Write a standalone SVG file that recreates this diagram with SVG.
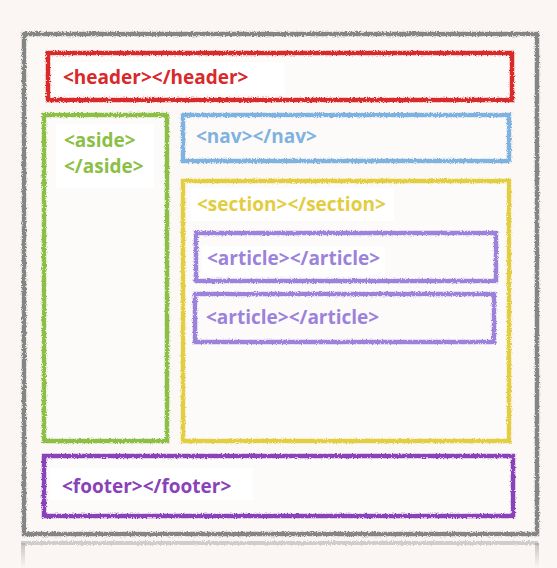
<svg xmlns="http://www.w3.org/2000/svg" width="557" height="568" viewBox="0 0 557 568">
  <defs>
    <filter id="chalk" x="-5%" y="-5%" width="110%" height="110%">
      <feTurbulence type="fractalNoise" baseFrequency="0.8" numOctaves="2" seed="3" result="n"/>
      <feDisplacementMap in="SourceGraphic" in2="n" scale="3.5" xChannelSelector="R" yChannelSelector="G"/>
    </filter>
    <linearGradient id="fade" x1="0" y1="0" x2="0" y2="1">
      <stop offset="0" stop-color="#9a9a9a" stop-opacity="0.55"/>
      <stop offset="1" stop-color="#9a9a9a" stop-opacity="0"/>
    </linearGradient>
  </defs>
  <style>
    .box { stroke-width: 4.5; fill: #fdfbfa; }
    .lbl { fill: #ffffff; }
    .t { font-family: "Open Sans", "Noto Sans", "Liberation Sans", sans-serif; font-weight: 700; font-size: 19px; }
  </style>
  <rect x="0" y="0" width="557" height="568" fill="#fbf6f4"/>

  <!-- reflection -->
  <g id="reflection">
    <rect x="21" y="541" width="518" height="4" fill="#bdbdbd" opacity="0.7" filter="url(#chalk)"/>
    <rect x="21" y="543" width="4" height="25" fill="url(#fade)"/>
    <rect x="535" y="543" width="4" height="25" fill="url(#fade)"/>
  </g>

  <g id="page">
    <rect x="24" y="34" width="513" height="500" fill="#fcf8f6" stroke="#858585" stroke-width="4.5" filter="url(#chalk)"/>
  </g>

  <g id="header">
    <rect class="box" x="48" y="53" width="464" height="47" stroke="#d8292b" filter="url(#chalk)"/>
    <rect class="lbl" x="55" y="62" width="230" height="32"/>
    <text class="t" x="63" y="84" fill="#d8292b">&lt;header&gt;&lt;/header&gt;</text>
  </g>

  <g id="aside">
    <rect class="box" x="44" y="115" width="123" height="326" stroke="#8bbf45" filter="url(#chalk)"/>
    <rect class="lbl" x="56" y="124" width="98" height="64"/>
    <text class="t" x="64" y="147" fill="#8bbf45">&lt;aside&gt;</text>
    <text class="t" x="64" y="173" fill="#8bbf45">&lt;/aside&gt;</text>
  </g>

  <g id="nav">
    <rect class="box" x="183" y="115" width="326" height="46" stroke="#80b2e0" filter="url(#chalk)"/>
    <text class="t" x="196" y="143" fill="#80b2e0">&lt;nav&gt;&lt;/nav&gt;</text>
  </g>

  <g id="section">
    <rect class="box" x="183" y="181" width="326" height="260" stroke="#e3cd3f" filter="url(#chalk)"/>
    <rect class="lbl" x="191" y="188" width="203" height="33"/>
    <text class="t" x="197" y="211" fill="#e3cd3f">&lt;section&gt;&lt;/section&gt;</text>
  </g>

  <g id="article1">
    <rect class="box" x="196" y="233" width="300" height="48" stroke="#9c82da" filter="url(#chalk)"/>
    <rect class="lbl" x="202" y="246" width="183" height="30"/>
    <text class="t" x="207" y="265" fill="#9c82da">&lt;article&gt;&lt;/article&gt;</text>
  </g>

  <g id="article2">
    <rect class="box" x="195" y="294" width="299" height="48" stroke="#9c82da" filter="url(#chalk)"/>
    <text class="t" x="206" y="324" fill="#9c82da">&lt;article&gt;&lt;/article&gt;</text>
  </g>

  <g id="footer">
    <rect class="box" x="44" y="456" width="469" height="60" stroke="#8a42b8" filter="url(#chalk)"/>
    <rect class="lbl" x="50" y="468" width="203" height="32"/>
    <text class="t" x="62" y="493" fill="#8a42b8">&lt;footer&gt;&lt;/footer&gt;</text>
  </g>
</svg>
